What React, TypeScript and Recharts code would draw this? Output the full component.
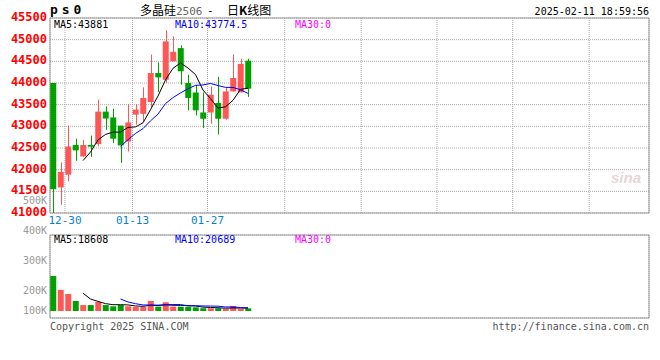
import { ComposedChart, Bar, Line, XAxis, YAxis, CartesianGrid, ReferenceArea, Cell } from 'recharts';

const dates = [
  '12-26', '12-27', '12-30', '12-31', '01-02', '01-03', '01-06', '01-07', '01-08', '01-09',
  '01-10', '01-13', '01-14', '01-15', '01-16', '01-17', '01-20', '01-21', '01-22', '01-23',
  '01-24', '01-27', '02-05', '02-06', '02-07', '02-10', '02-11',
];
const opens = [44000, 41590, 41885, 42570, 42305, 42570, 42590, 43340, 43205, 43015, 42650, 43270, 43290, 43560, 44230, 44075, 44500, 44805, 44000, 43780, 43320, 43320, 43540, 43175, 43805, 43785, 44515];
const highs = [44000, 42170, 43020, 42715, 42690, 42785, 43615, 43460, 43405, 43015, 43515, 43515, 43900, 44655, 44475, 45215, 45075, 44870, 44190, 43950, 43780, 43920, 44140, 43885, 44655, 44560, 44560];
const lows = [41000, 41190, 41730, 42205, 42300, 42290, 42540, 42920, 42615, 42155, 42420, 43040, 43115, 43445, 43790, 44000, 44500, 43960, 43370, 43250, 42960, 43060, 42810, 43150, 43800, 43780, 43680];
const closes = [41550, 41950, 42535, 42445, 42570, 42530, 43340, 43180, 42715, 42560, 43090, 43385, 43655, 44230, 44130, 44960, 44720, 44270, 43655, 43370, 43175, 43730, 43175, 43805, 44115, 44440, 43870];
const volumes = [224000, 135000, 109000, 64000, 38000, 38000, 58000, 38000, 30000, 38000, 30000, 26000, 26000, 64000, 28000, 56000, 28000, 27500, 27000, 23500, 18000, 17850, 17500, 13500, 32000, 13000, 17040];

const priceTicks = [41000, 41500, 42000, 42500, 43000, 43500, 44000, 44500, 45000, 45500];
const labeledDates = ['12-30', '01-13', '01-27'];
const extraGridTicks = [30.9, 41.1, 51.2, 61.3, 71.5];
const volGridTicks = [100000, 228000, 354000];
const volLabels = ['500K', '400K', '300K', '200K', '100K'];

const UP = '#ff5757';
const DOWN = '#00a000';
const MONO = '"DejaVu Sans Mono", monospace';
const CJK = '"Noto Sans CJK SC", sans-serif';

const avg = (arr: number[], n: number, k: number) => {
  if (k < n - 1) return null;
  let s = 0;
  for (let j = k - n + 1; j <= k; j++) s += arr[j];
  return s / n;
};

const rows = dates.map((d, k) => ({
  i: k,
  date: d,
  open: opens[k],
  high: highs[k],
  low: lows[k],
  close: closes[k],
  range: [lows[k], highs[k]],
  vol: volumes[k],
  ma5: avg(closes, 5, k),
  ma10: avg(closes, 10, k),
  vma5: avg(volumes, 5, k),
  vma10: avg(volumes, 10, k),
}));

const dateTicks = labeledDates.map((d) => dates.indexOf(d) - 0.4);
const xTicks = [...dateTicks, ...extraGridTicks];
const X_DOMAIN: [number, number] = [-0.4, 79.47];

function Candle(props: any) {
  const { x, y, width, height, payload } = props;
  const { open, close, high, low } = payload;
  const k = high === low ? 0 : height / (high - low);
  const top = y + (high - Math.max(open, close)) * k;
  const bot = y + (high - Math.min(open, close)) * k;
  const color = close >= open ? UP : DOWN;
  const cx = Math.round(x + width / 2) + 0.5;
  return (
    <g>
      <line x1={cx} x2={cx} y1={y} y2={y + height} stroke={color} strokeWidth={1} />
      <rect x={x} y={top} width={width} height={Math.max(1, bot - top)} fill={color} />
    </g>
  );
}

function DateTick(props: any) {
  const { x, y, payload } = props;
  const idx = dateTicks.indexOf(payload.value);
  if (idx < 0) return null;
  return (
    <text x={x} y={y + 3} textAnchor="middle" fill="#0a7fd0" fontSize={11} fontFamily={MONO}>
      {labeledDates[idx]}
    </text>
  );
}

function PriceTick(props: any) {
  const { x, y, payload } = props;
  return (
    <text x={x} y={y + 3} textAnchor="end" fill="#ff0000" fontSize={12} fontWeight="bold" fontFamily={MONO}>
      {payload.value}
    </text>
  );
}

export default function App() {
  return (
    <div style={{ position: 'absolute', left: 0, top: 0, width: 660, height: 360, background: '#fff', overflow: 'hidden' }}>
      <div style={{ position: 'absolute', left: 0, top: 0 }}>
        <ComposedChart width={660} height={230} data={rows} margin={{ top: 18, right: 11, bottom: 0, left: 0 }}>
          <XAxis
            type="number"
            dataKey="i"
            domain={X_DOMAIN}
            allowDataOverflow
            ticks={xTicks}
            tick={<DateTick />}
            axisLine={false}
            tickLine={false}
            height={17}
            interval={0}
          />
          <YAxis
            domain={[41000, 45500]}
            allowDataOverflow
            ticks={priceTicks}
            tick={<PriceTick />}
            axisLine={false}
            tickLine={false}
            tickSize={0}
            tickMargin={3}
            width={50}
            interval={0}
          />
          <CartesianGrid stroke="#aaa" strokeDasharray="1 1" />
          <ReferenceArea x1={X_DOMAIN[0]} x2={X_DOMAIN[1]} y1={41000} y2={45500} fill="none" stroke="#999" strokeWidth={1} ifOverflow="visible" />
          <Bar dataKey="range" barSize={6} shape={<Candle />} isAnimationActive={false} />
          <Line dataKey="ma5" stroke="#000" strokeWidth={1} dot={false} isAnimationActive={false} type="linear" />
          <Line dataKey="ma10" stroke="#0000ff" strokeWidth={1} dot={false} isAnimationActive={false} type="linear" />
        </ComposedChart>
      </div>
      <div style={{ position: 'absolute', left: 0, top: 220 }}>
        <ComposedChart width={660} height={110} data={rows} margin={{ top: 15, right: 11, bottom: 12, left: 0 }}>
          <XAxis type="number" dataKey="i" domain={X_DOMAIN} allowDataOverflow ticks={xTicks} tick={false} axisLine={false} tickLine={false} height={0} />
          <YAxis domain={[-44800, 486400]} allowDataOverflow ticks={volGridTicks} tick={false} axisLine={false} tickLine={false} width={50} />
          <CartesianGrid stroke="#aaa" strokeDasharray="1 1" />
          <ReferenceArea x1={X_DOMAIN[0]} x2={X_DOMAIN[1]} y1={-44800} y2={486400} fill="none" stroke="#999" strokeWidth={1} ifOverflow="visible" />
          <Bar dataKey="vol" barSize={6} isAnimationActive={false}>
            {rows.map((r, k) => (
              <Cell key={k} fill={r.close >= r.open ? UP : DOWN} />
            ))}
          </Bar>
          <Line dataKey="vma5" stroke="#000" strokeWidth={1} dot={false} isAnimationActive={false} type="linear" />
          <Line dataKey="vma10" stroke="#0000ff" strokeWidth={1} dot={false} isAnimationActive={false} type="linear" />
        </ComposedChart>
      </div>
      <svg width={660} height={360} style={{ position: 'absolute', left: 0, top: 0, pointerEvents: 'none' }}>
        <text x={50} y={14} fontSize={13} fontWeight="bold" fontFamily={MONO} letterSpacing={3.9} fill="#000">ps0</text>
        <text x={140} y={14.5} fontSize={12} fontFamily={CJK} fill="#000">多晶硅</text>
        <text x={176} y={14.5} fontSize={11} fontFamily={MONO} fill="#666">2506</text>
        <text x={207} y={14} fontSize={11} fontFamily={MONO} fill="#000">-</text>
        <text x={227} y={14.5} fontSize={12} fontFamily={CJK} fill="#000">日<tspan fontWeight="bold">K</tspan>线图</text>
        <text x={649} y={15} textAnchor="end" fontSize={10} fontFamily={MONO} fill="#000">2025-02-11 18:59:56</text>

        <text x={54} y={27.5} fontSize={10} fontFamily={MONO} fill="#000">MA5:43881</text>
        <text x={175} y={27.5} fontSize={10} fontFamily={MONO} fill="#0000ff">MA10:43774.5</text>
        <text x={295} y={27.5} fontSize={10} fontFamily={MONO} fill="#ff00ff">MA30:0</text>

        <text x={54} y={243} fontSize={10} fontFamily={MONO} fill="#000">MA5:18608</text>
        <text x={175} y={243} fontSize={10} fontFamily={MONO} fill="#0000ff">MA10:20689</text>
        <text x={295} y={243} fontSize={10} fontFamily={MONO} fill="#ff00ff">MA30:0</text>

        {volLabels.map((t, k) => (
          <text key={t} x={47} y={[204, 234, 264, 294, 314][k]} textAnchor="end" fontSize={10} fontFamily={MONO} fill="#999">{t}</text>
        ))}

        <text x={626} y={183} textAnchor="middle" fontSize={15} fontWeight="bold" fontStyle="italic" fontFamily="Arial, sans-serif" fill="#e6d6d6">sina</text>

        <text x={50} y={330} fontSize={10} fontFamily={MONO} fill="#555">Copyright 2025 SINA.COM</text>
        <text x={649} y={330} textAnchor="end" fontSize={10} fontFamily={MONO} fill="#555">http://finance.sina.com.cn</text>
      </svg>
    </div>
  );
}
